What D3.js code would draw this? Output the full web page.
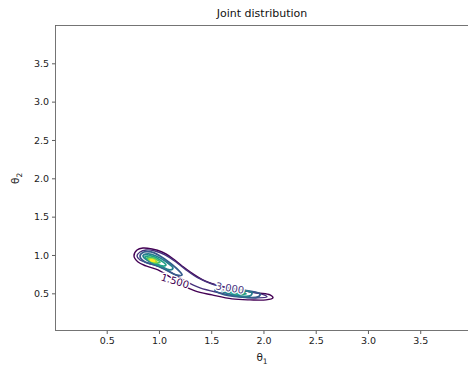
<!DOCTYPE html>
<html><head><meta charset="utf-8">
<script src="https://cdn.jsdelivr.net/npm/d3@7"></script>
<style>
html,body{margin:0;padding:0;background:#fff;}
svg{display:block;font-family:"DejaVu Sans",sans-serif;}
</style></head>
<body><svg id="c" width="468" height="369"></svg>
<script>
// ---- data ----
const title = "Joint distribution";
const xTicks = [0.5, 1.0, 1.5, 2.0, 2.5, 3.0, 3.5];
const yTicks = [0.5, 1.0, 1.5, 2.0, 2.5, 3.0, 3.5];
const xDomain = [0.01, 3.962];
const yDomain = [0.015, 3.993];
const levels = [1.5, 3.0, 4.5, 6.0, 7.5, 9.0, 10.5, 12.0];
// contour rings (theta1, theta2), one list per ring
const ring1_5 = [[0.761,0.987],[0.790,1.065],[0.847,1.091],[0.933,1.078],[1.029,1.039],[1.125,0.961],[1.221,0.857],[1.326,0.753],[1.441,0.661],[1.584,0.596],[1.776,0.544],[1.948,0.505],[2.063,0.479],[2.091,0.440],[2.024,0.414],[1.871,0.414],[1.699,0.427],[1.508,0.479],[1.345,0.531],[1.221,0.609],[1.106,0.713],[0.991,0.805],[0.876,0.857],[0.800,0.908]];
const ring3_0 = [[0.790,0.987],[0.819,1.039],[0.876,1.065],[0.962,1.052],[1.058,1.000],[1.163,0.908],[1.259,0.805],[1.374,0.700],[1.508,0.622],[1.680,0.570],[1.871,0.518],[2.005,0.479],[2.034,0.453],[1.948,0.440],[1.776,0.453],[1.584,0.505],[1.393,0.570],[1.250,0.661],[1.125,0.766],[1.010,0.844],[0.895,0.895],[0.819,0.935]];
const ring4_5a = [[0.819,0.987],[0.857,1.039],[0.924,1.039],[1.010,0.987],[1.106,0.895],[1.183,0.805],[1.221,0.740],[1.163,0.740],[1.067,0.805],[0.962,0.869],[0.866,0.908]];
const ring4_5b = [[1.536,0.544],[1.680,0.557],[1.852,0.531],[1.967,0.492],[1.948,0.453],[1.776,0.453],[1.603,0.492]];
const ring6_0a = [[0.847,0.987],[0.895,1.013],[0.972,0.987],[1.058,0.921],[1.134,0.831],[1.106,0.805],[1.010,0.857],[0.914,0.908]];
const ring6_0b = [[1.603,0.531],[1.737,0.544],[1.890,0.505],[1.871,0.466],[1.718,0.479]];
const ring7_5a = [[0.866,0.974],[0.924,0.987],[1.010,0.935],[1.067,0.869],[1.029,0.857],[0.943,0.908]];
const ring7_5b = [[1.680,0.518],[1.776,0.518],[1.833,0.492],[1.737,0.492]];
const ring9_0 = [[0.886,0.961],[0.943,0.961],[1.010,0.908],[0.962,0.895],[0.905,0.935]];
const ring10_5 = [[0.905,0.948],[0.952,0.941],[0.981,0.908],[0.933,0.921]];
const ring12_0 = [[0.918,0.937],[0.950,0.930],[0.958,0.918],[0.930,0.923]];
const contours = [
  {level:1.5, rings:[ring1_5]},
  {level:3.0, rings:[ring3_0]},
  {level:4.5, rings:[ring4_5a, ring4_5b]},
  {level:6.0, rings:[ring6_0a, ring6_0b]},
  {level:7.5, rings:[ring7_5a, ring7_5b]},
  {level:9.0, rings:[ring9_0]},
  {level:10.5, rings:[ring10_5]},
  {level:12.0, rings:[ring12_0]}
];
const labels = [{text:"1.500", level:1.5, x:1.154, y:0.661, angle:17},
                {text:"3.000", level:3.0, x:1.680, y:0.570, angle:9}];

// ---- drawing ----
const svg = d3.select("#c");
const m = {l:55.5, t:25.5, r:0, b:38.5};
const W = 468 - m.l - m.r + 0.5, H = 369 - m.t - m.b;
const x = d3.scaleLinear().domain(xDomain).range([m.l, m.l + W]);
const y = d3.scaleLinear().domain(yDomain).range([m.t + H, m.t]);
const color = d3.scaleSequential(d3.interpolateViridis).domain([levels[0], levels[levels.length-1]]);

svg.append("defs").append("clipPath").attr("id","clip")
  .append("rect").attr("x", m.l).attr("y", m.t).attr("width", W).attr("height", H);

const line = d3.line().x(d=>x(d[0])).y(d=>y(d[1])).curve(d3.curveCatmullRomClosed.alpha(0.5));
const g = svg.append("g").attr("clip-path","url(#clip)");
contours.forEach((c, i) => {
  c.rings.forEach(r => {
    g.append("path").attr("d", line(r)).attr("fill","none")
      .attr("stroke", color(c.level)).attr("stroke-width", i < 2 ? 1.4 : 1.8);
  });
});
labels.forEach(l => {
  g.append("text").attr("transform", `translate(${x(l.x)},${y(l.y)}) rotate(${l.angle})`)
    .attr("text-anchor","middle").attr("dy","0.35em")
    .attr("font-size", 10).attr("fill", color(l.level))
    .attr("stroke","#fff").attr("stroke-width",2.5).attr("paint-order","stroke")
    .text(l.text);
});

// axes
const xAxis = d3.axisBottom(x).tickValues(xTicks).tickFormat(d3.format(".1f")).tickSize(3.5).tickPadding(3);
const yAxis = d3.axisLeft(y).tickValues(yTicks).tickFormat(d3.format(".1f")).tickSize(3.5).tickPadding(3);
const gx = svg.append("g").attr("transform", `translate(0,${m.t+H})`).call(xAxis);
const gy = svg.append("g").attr("transform", `translate(${m.l},0)`).call(yAxis);
[gx, gy].forEach(a => {
  a.select(".domain").remove();
  a.selectAll("line").attr("stroke","#333").attr("stroke-width",0.8);
  a.selectAll("text").attr("font-size", 9.5).attr("fill","#222").attr("font-family","DejaVu Sans");
});
// spines
svg.append("rect").attr("x", m.l).attr("y", m.t).attr("width", W).attr("height", H)
  .attr("fill","none").attr("stroke","#666").attr("stroke-width",0.9);

svg.append("text").attr("x", m.l + W/2).attr("y", 17).attr("text-anchor","middle")
  .attr("font-size", 11).attr("fill","#111").text(title);
svg.append("text").attr("x", m.l + W/2).attr("y", 361).attr("text-anchor","middle")
  .attr("font-size", 10.5).attr("fill","#222").html("θ<tspan font-size='7.5' dy='2.5'>1</tspan>");
svg.append("text").attr("transform", `translate(19,${y(2.0)}) rotate(-90)`).attr("text-anchor","middle")
  .attr("font-size", 10.5).attr("fill","#222").html("θ<tspan font-size='7.5' dy='2.5'>2</tspan>");
</script></body></html>
